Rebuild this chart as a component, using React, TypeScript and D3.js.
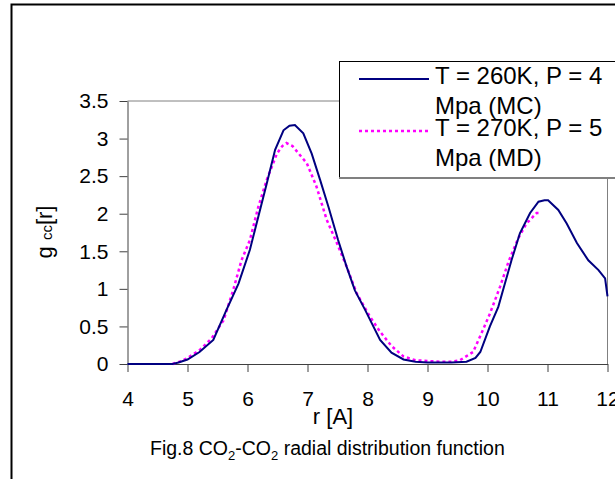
import React, { useEffect, useRef } from 'react';
import * as d3 from 'd3';

// g(r), MC run (navy, solid)
const rMC = [4.0, 4.5, 4.75, 4.85, 5.0, 5.2, 5.43, 5.65, 5.85, 6.04, 6.18, 6.32, 6.46, 6.6, 6.7, 6.79, 6.93, 7.07, 7.21, 7.35, 7.51, 7.65, 7.79, 7.96, 8.21, 8.4, 8.6, 8.8, 9.0, 9.2, 9.4, 9.65, 9.8, 9.88, 10.04, 10.18, 10.29, 10.4, 10.54, 10.71, 10.85, 10.95, 11.01, 11.18, 11.32, 11.49, 11.68, 11.85, 11.96, 12.0];
const gMC = [0, 0, 0, 0.02, 0.06, 0.16, 0.32, 0.72, 1.07, 1.52, 1.96, 2.4, 2.85, 3.11, 3.17, 3.18, 3.07, 2.8, 2.45, 2.09, 1.65, 1.3, 0.98, 0.72, 0.32, 0.15, 0.06, 0.03, 0.02, 0.02, 0.02, 0.03, 0.08, 0.16, 0.5, 0.76, 1.07, 1.38, 1.74, 2.01, 2.16, 2.18, 2.18, 2.05, 1.87, 1.61, 1.38, 1.25, 1.14, 0.9];

// MD run (magenta, dotted)
const rMD = [4.75, 4.9, 5.0, 5.21, 5.4, 5.6, 5.76, 5.9, 6.04, 6.18, 6.32, 6.49, 6.58, 6.65, 6.75, 6.99, 7.15, 7.32, 7.49, 7.65, 7.82, 8.04, 8.21, 8.4, 8.6, 8.8, 9.0, 9.2, 9.4, 9.54, 9.76, 9.9, 10.04, 10.21, 10.35, 10.51, 10.65, 10.82, 10.9];
const gMD = [0.0, 0.04, 0.08, 0.19, 0.34, 0.58, 0.98, 1.38, 1.65, 2.09, 2.45, 2.8, 2.9, 2.94, 2.9, 2.67, 2.36, 1.92, 1.61, 1.3, 0.94, 0.63, 0.43, 0.24, 0.1, 0.05, 0.04, 0.03, 0.03, 0.05, 0.16, 0.41, 0.67, 1.03, 1.36, 1.67, 1.87, 2.01, 2.01];

const xTicks = [4, 5, 6, 7, 8, 9, 10, 11, 12];
const yTicks = [0, 0.5, 1, 1.5, 2, 2.5, 3, 3.5];
const legendLabels = [
  ['T = 260K, P = 4', 'Mpa (MC)'],
  ['T = 270K, P = 5', 'Mpa (MD)'],
];

const W = 615;
const H = 479;
const FONT = "'Liberation Sans', Arial, sans-serif";

const App = () => {
  const ref = useRef<SVGSVGElement>(null);

  useEffect(() => {
    const svg = d3.select(ref.current);
    svg.selectAll('*').remove();

    const x = d3.scaleLinear().domain([4, 12]).range([127.5, 607.5]);
    const y = d3.scaleLinear().domain([0, 3.5]).range([364, 101]);

    // outer frame
    svg.append('rect')
      .attr('x', 11.5).attr('y', 4.5)
      .attr('width', 700).attr('height', 600)
      .attr('fill', '#fff').attr('stroke', '#000').attr('stroke-width', 2);

    // plot border (top/right)
    svg.append('path')
      .attr('d', `M${x(4)},${y(3.5)}H${x(12)}V${y(0)}`)
      .attr('fill', 'none').attr('stroke', '#808080').attr('stroke-width', 1);

    // axes
    const yAxis = svg.append('g')
      .attr('transform', `translate(${x(4)},0)`)
      .call(d3.axisLeft(y).tickValues(yTicks).tickFormat(d3.format('')).tickSize(8).tickSizeOuter(0).tickPadding(11));
    const xAxis = svg.append('g')
      .attr('transform', `translate(0,${y(0)})`)
      .call(d3.axisBottom(x).tickValues(xTicks).tickSize(8).tickSizeOuter(0).tickPadding(19));
    [yAxis, xAxis].forEach((g) => {
      g.selectAll('path,line').attr('stroke', '#404040');
      g.selectAll('text').attr('font-family', FONT).attr('font-size', 21).attr('fill', '#000');
    });

    // curves
    const mc = rMC.map((r, i) => [x(r), y(gMC[i])] as [number, number]);
    const md = rMD.map((r, i) => [x(r), y(gMD[i])] as [number, number]);
    svg.append('path')
      .attr('d', d3.line()(md))
      .attr('fill', 'none').attr('stroke', '#ff00ff').attr('stroke-width', 2.5)
      .attr('stroke-dasharray', '3,3');
    svg.append('path')
      .attr('d', d3.line()(mc))
      .attr('fill', 'none').attr('stroke', '#000080').attr('stroke-width', 2);

    // axis titles
    const yt = svg.append('text')
      .attr('transform', 'translate(52,232) rotate(-90)')
      .attr('text-anchor', 'middle')
      .attr('font-family', FONT).attr('font-size', 22);
    yt.append('tspan').text('g ');
    yt.append('tspan').attr('font-size', 15).text('cc');
    yt.append('tspan').text('[r]');

    svg.append('text')
      .attr('x', 333).attr('y', 424)
      .attr('text-anchor', 'middle')
      .attr('font-family', FONT).attr('font-size', 22)
      .text('r [A]');

    // caption
    const cap = svg.append('text')
      .attr('x', 150).attr('y', 455)
      .attr('font-family', FONT).attr('font-size', 19.5);
    cap.append('tspan').text('Fig.8 CO');
    cap.append('tspan').attr('font-size', 13).attr('dy', 5).text('2');
    cap.append('tspan').attr('dy', -5).text('-CO');
    cap.append('tspan').attr('font-size', 13).attr('dy', 5).text('2');
    cap.append('tspan').attr('dy', -5).text(' radial distribution function');

    // legend
    const lg = svg.append('g');
    lg.append('rect')
      .attr('x', 339.5).attr('y', 61.5)
      .attr('width', 300).attr('height', 116)
      .attr('fill', '#fff').attr('stroke', '#000').attr('stroke-width', 1);
    lg.append('line')
      .attr('x1', 339).attr('x2', 615).attr('y1', 178).attr('y2', 178)
      .attr('stroke', '#808080').attr('stroke-width', 2);
    const styles = [
      { color: '#000080', dash: null, width: 2 },
      { color: '#ff00ff', dash: '3,3', width: 2.5 },
    ];
    legendLabels.forEach((lines, i) => {
      const base = 84 + i * 52;
      lg.append('line')
        .attr('x1', 359).attr('x2', 429)
        .attr('y1', base - 5).attr('y2', base - 5)
        .attr('stroke', styles[i].color).attr('stroke-width', styles[i].width)
        .attr('stroke-dasharray', styles[i].dash);
      lines.forEach((t, j) => {
        lg.append('text')
          .attr('x', 435).attr('y', base + j * 30)
          .attr('font-family', FONT).attr('font-size', 24)
          .text(t);
      });
    });
  }, []);

  return (
    <div style={{ position: 'absolute', left: 0, top: 0 }}>
      <svg ref={ref} width={W} height={H} style={{ display: 'block' }} />
    </div>
  );
};

export default App;
